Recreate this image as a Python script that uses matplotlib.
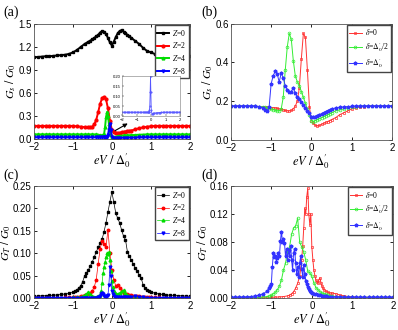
import numpy as np
import matplotlib
matplotlib.use('Agg')
import matplotlib.pyplot as plt
from matplotlib.ticker import FormatStrFormatter

plt.rcParams['font.family'] = 'Liberation Sans'
plt.rcParams['mathtext.fontset'] = 'stix'

# ---------------- panel (a): Gs/G0 for several Z ----------------
xa = [-2.0, -1.9, -1.8, -1.7, -1.6, -1.5, -1.4, -1.3, -1.2, -1.1, -1.0, -0.9, -0.8, -0.7, -0.6,
      -0.55, -0.5, -0.45, -0.4, -0.35, -0.3, -0.25, -0.2, -0.15, -0.1, -0.05, 0.0, 0.05, 0.1,
      0.15, 0.2, 0.25, 0.3, 0.35, 0.4, 0.45, 0.5,
      0.6, 0.7, 0.8, 0.9, 1.0, 1.1, 1.2, 1.3, 1.4, 1.5, 1.6, 1.7, 1.8, 1.9, 2.0]
a_z0 = [1.07, 1.07, 1.075, 1.08, 1.08, 1.085, 1.09, 1.095, 1.10, 1.11, 1.13, 1.16, 1.20, 1.24, 1.27,
        1.285, 1.30, 1.32, 1.34, 1.36, 1.39, 1.41, 1.40, 1.37, 1.32, 1.26, 1.22, 1.27, 1.33,
        1.38, 1.41, 1.42, 1.40, 1.38, 1.36, 1.34, 1.32,
        1.28, 1.24, 1.19, 1.15, 1.13, 1.11, 1.10, 1.095, 1.09, 1.085, 1.08, 1.08, 1.08, 1.08, 1.08]
a_z2 = [0.17] * 11 + [0.165, 0.16, 0.155, 0.15] + \
       [0.15, 0.16, 0.19, 0.25, 0.35, 0.46, 0.53, 0.55, 0.52, 0.40, 0.24, 0.12, 0.09, 0.075,
        0.075, 0.08, 0.085, 0.09, 0.095, 0.10, 0.105, 0.11] + \
       [0.125, 0.14, 0.15, 0.16, 0.165] + [0.17] * 10

xa2 = [-2.0, -1.9, -1.8, -1.7, -1.6, -1.5, -1.4, -1.3, -1.2, -1.1, -1.0, -0.9, -0.8, -0.7, -0.6, -0.5, -0.4,
       -0.35, -0.3, -0.25, -0.2, -0.175, -0.15, -0.125, -0.1, -0.075, -0.05, -0.025, 0.0, 0.05, 0.1, 0.15, 0.2,
       0.3, 0.4, 0.5, 0.6, 0.7, 0.8, 0.9, 1.0, 1.1, 1.2, 1.3, 1.4, 1.5, 1.6, 1.7, 1.8, 1.9, 2.0]
a_z4 = [0.06] * 17 + \
       [0.055, 0.05, 0.045, 0.06, 0.15, 0.28, 0.35, 0.30, 0.20, 0.10, 0.05, 0.03, 0.025, 0.03, 0.035, 0.04] + \
       [0.045, 0.048, 0.05, 0.052, 0.055, 0.057] + [0.06] * 12
a_z8 = [0.02] * 17 + \
       [0.02, 0.02, 0.02, 0.02, 0.02, 0.02, 0.03, 0.05, 0.12, 0.20, 0.12, 0.03, 0.01, 0.012, 0.014, 0.015] + \
       [0.016, 0.017, 0.018, 0.018, 0.019, 0.019] + [0.02] * 12

# ---------------- panel (b): Gs/G0 for several delta ----------------
xb = [-2.0, -1.9, -1.8, -1.7, -1.6, -1.5, -1.4, -1.3, -1.2,
      -1.15, -1.1, -1.05, -1.0, -0.95, -0.9, -0.85, -0.8, -0.75, -0.7, -0.65, -0.6, -0.55, -0.5,
      -0.45, -0.4, -0.35, -0.3, -0.25, -0.2, -0.15, -0.1, -0.05, 0.0, 0.05, 0.1, 0.15, 0.2, 0.25,
      0.3, 0.35, 0.4, 0.45, 0.5,
      0.6, 0.7, 0.8, 0.9, 1.0, 1.1, 1.2, 1.3, 1.4, 1.5, 1.6, 1.7, 1.8, 1.9, 2.0]
b_d0 = [0.175] * 7 + [0.172, 0.17] + \
       [0.17, 0.17, 0.168, 0.167, 0.166, 0.165, 0.163, 0.16, 0.158, 0.155, 0.152, 0.15, 0.15, 0.152,
        0.16, 0.175, 0.20, 0.27, 0.42, 0.55, 0.53, 0.36, 0.17, 0.10, 0.085, 0.075, 0.072, 0.075, 0.08,
        0.085, 0.09, 0.095, 0.10, 0.105] + \
       [0.115, 0.13, 0.14, 0.15, 0.16, 0.165, 0.17, 0.172] + [0.175] * 7
b_d1 = [0.175] * 7 + [0.172, 0.17] + \
       [0.168, 0.165, 0.163, 0.16, 0.157, 0.153, 0.15, 0.15, 0.16, 0.22, 0.36, 0.48, 0.55, 0.52,
        0.41, 0.33, 0.30, 0.28, 0.25, 0.22, 0.19, 0.16, 0.13, 0.10, 0.095, 0.10, 0.105, 0.11, 0.115,
        0.12, 0.125, 0.13, 0.135, 0.14] + \
       [0.15, 0.155, 0.16, 0.165, 0.17, 0.172] + [0.175] * 9
b_d2 = [0.175] * 7 + [0.17, 0.165] + \
       [0.155, 0.147, 0.17, 0.29, 0.33, 0.355, 0.34, 0.30, 0.345, 0.32, 0.28, 0.26, 0.245, 0.25,
        0.27, 0.24, 0.22, 0.21, 0.195, 0.18, 0.165, 0.15, 0.14, 0.12, 0.118, 0.12, 0.125, 0.13, 0.135,
        0.14, 0.145, 0.15, 0.155, 0.16] + \
       [0.165, 0.168, 0.17, 0.172, 0.173] + [0.175] * 10

# ---------------- panel (c): GT/G0 for several Z ----------------
xc = [-2.0, -1.9, -1.8, -1.7, -1.6, -1.5, -1.4, -1.3, -1.2, -1.1, -1.0,
      -0.95, -0.9, -0.85, -0.8, -0.75, -0.7, -0.65, -0.6, -0.55, -0.5, -0.45, -0.4, -0.35, -0.3,
      -0.25, -0.2, -0.15, -0.1, -0.05, 0.0, 0.05, 0.1, 0.15, 0.2, 0.25, 0.3, 0.35, 0.4, 0.45, 0.5,
      0.55, 0.6, 0.65, 0.7, 0.75, 0.8, 0.85, 0.9, 0.95,
      1.0, 1.1, 1.2, 1.3, 1.4, 1.5, 1.6, 1.7, 1.8, 1.9, 2.0]
c_z0 = [0.004, 0.004, 0.005, 0.005, 0.006, 0.006, 0.007, 0.008, 0.009, 0.011, 0.013,
        0.015, 0.018, 0.022, 0.027, 0.036, 0.049, 0.056, 0.063, 0.072, 0.081, 0.092, 0.103, 0.113, 0.122,
        0.132, 0.148, 0.168, 0.192, 0.215, 0.237, 0.214, 0.19, 0.178, 0.168, 0.152, 0.138, 0.13, 0.103,
        0.093, 0.085, 0.076, 0.067, 0.06, 0.052, 0.045, 0.03, 0.022, 0.018, 0.015,
        0.013, 0.011, 0.009, 0.008, 0.007, 0.006, 0.006, 0.005, 0.005, 0.004, 0.004]
c_z2 = [0.001] * 8 + [0.0015, 0.002, 0.002] + \
       [0.002, 0.003, 0.003, 0.004, 0.005, 0.006, 0.007, 0.009, 0.012, 0.016, 0.025, 0.041, 0.077, 0.11,
        0.128, 0.12, 0.114, 0.152, 0.10, 0.063, 0.041, 0.027, 0.03, 0.023, 0.016, 0.012, 0.01, 0.008,
        0.007, 0.006, 0.005, 0.005, 0.004, 0.004, 0.003, 0.003, 0.003, 0.002, 0.002] + \
       [0.002, 0.002, 0.0015] + [0.001] * 8

xg = [-2.0, -1.9, -1.8, -1.7, -1.6, -1.5, -1.4, -1.3, -1.2, -1.1, -1.0, -0.9, -0.8,
      -0.75, -0.7, -0.65, -0.6, -0.55, -0.5, -0.45, -0.4,
      -0.375, -0.35, -0.325, -0.3, -0.275, -0.25, -0.225, -0.2, -0.175, -0.15, -0.125, -0.1, -0.075,
      -0.05, -0.025, 0.0, 0.025, 0.05, 0.075, 0.1,
      0.15, 0.2, 0.25, 0.3, 0.35, 0.4, 0.45, 0.5,
      0.6, 0.7, 0.8, 0.9, 1.0, 1.1, 1.2, 1.3, 1.4, 1.5, 1.6, 1.7, 1.8, 1.9, 2.0]
c_z4 = [0.001] * 10 + [0.0015, 0.002, 0.003] + \
       [0.004, 0.006, 0.01, 0.014, 0.01, 0.005, 0.003, 0.003] + \
       [0.003, 0.004, 0.005, 0.007, 0.015, 0.034, 0.055, 0.07, 0.08, 0.092, 0.1, 0.098, 0.103, 0.085,
        0.06, 0.038, 0.025, 0.016, 0.011, 0.009] + \
       [0.01, 0.012, 0.015, 0.017, 0.012, 0.007, 0.004, 0.003] + \
       [0.002, 0.002, 0.0015] + [0.001] * 12
c_z8 = [0.001] * 21 + \
       [0.001, 0.002, 0.003, 0.004, 0.008, 0.012, 0.008, 0.005, 0.004, 0.003, 0.004, 0.006, 0.03, 0.07,
        0.05, 0.016, 0.008, 0.005, 0.003, 0.002] + \
       [0.002, 0.002, 0.002, 0.002, 0.002, 0.002, 0.002, 0.003] + \
       [0.005, 0.003, 0.002] + [0.001] * 12

# ---------------- panel (d): GT/G0 for several delta ----------------
xd_r = [-2.0, -1.9, -1.8, -1.7, -1.6, -1.5, -1.4, -1.3, -1.2, -1.1, -1.0, -0.9, -0.8, -0.7, -0.6,
        -0.55, -0.5, -0.45, -0.4, -0.35, -0.3,
        -0.275, -0.25, -0.225, -0.2, -0.175, -0.15, -0.125, -0.1, -0.075, -0.05, -0.025, 0.0, 0.025,
        0.05, 0.075, 0.1, 0.125, 0.15, 0.175, 0.2, 0.225, 0.25, 0.275, 0.3,
        0.35, 0.4, 0.45, 0.5,
        0.6, 0.7, 0.8, 0.9, 1.0, 1.1, 1.2, 1.3, 1.4, 1.5, 1.6, 1.7, 1.8, 1.9, 2.0]
d_d0 = [0.001] * 11 + [0.0012, 0.0015, 0.002, 0.003] + \
       [0.004, 0.006, 0.009, 0.014, 0.021, 0.031] + \
       [0.042, 0.055, 0.075, 0.10, 0.128, 0.12, 0.145, 0.157, 0.12, 0.105, 0.12, 0.073, 0.055, 0.04,
        0.032, 0.026, 0.023, 0.022, 0.026, 0.029, 0.022, 0.017, 0.014, 0.012] + \
       [0.010, 0.008, 0.007, 0.007] + \
       [0.006, 0.004, 0.003, 0.002, 0.002] + [0.001] * 10

xd_g = [-2.0, -1.9, -1.8, -1.7, -1.6, -1.5, -1.4, -1.3, -1.2, -1.1,
        -1.05, -1.0, -0.95, -0.9, -0.85, -0.8, -0.75, -0.7, -0.65, -0.6, -0.55, -0.5, -0.45, -0.4,
        -0.35, -0.3, -0.25, -0.2, -0.15, -0.1, -0.05, 0.0, 0.05, 0.1, 0.15, 0.2, 0.25, 0.3, 0.35,
        0.4, 0.45, 0.5,
        0.6, 0.7, 0.8, 0.9, 1.0, 1.1, 1.2, 1.3, 1.4, 1.5, 1.6, 1.7, 1.8, 1.9, 2.0]
d_d1 = [0.001] * 8 + [0.0015, 0.002] + \
       [0.003, 0.004, 0.006, 0.008, 0.012, 0.017, 0.026, 0.04, 0.05, 0.066, 0.073, 0.091, 0.10, 0.103,
        0.114, 0.08, 0.073, 0.066, 0.054, 0.038, 0.036, 0.031, 0.022, 0.015, 0.012, 0.009, 0.007,
        0.006, 0.005, 0.004, 0.003, 0.003] + \
       [0.002, 0.002, 0.0015] + [0.001] * 12

xd_b = [-2.0, -1.9, -1.8, -1.7, -1.6, -1.5, -1.4, -1.3, -1.2, -1.1,
        -1.05, -1.025, -1.0, -0.975, -0.95, -0.925, -0.9, -0.875, -0.85, -0.825, -0.8, -0.775,
        -0.75, -0.725, -0.7, -0.675, -0.65, -0.625, -0.6, -0.575, -0.55, -0.525, -0.5, -0.475,
        -0.45, -0.425, -0.4, -0.375, -0.35, -0.325, -0.3, -0.275, -0.25, -0.225, -0.2, -0.175,
        -0.15, -0.125, -0.1, -0.075, -0.05, -0.025, 0.0,
        0.05, 0.1, 0.15, 0.2, 0.25, 0.3, 0.35, 0.4, 0.45, 0.5,
        0.6, 0.7, 0.8, 0.9, 1.0, 1.1, 1.2, 1.3, 1.4, 1.5, 1.6, 1.7, 1.8, 1.9, 2.0]
d_d2 = [0.001, 0.001, 0.001, 0.0012, 0.0015, 0.002, 0.003, 0.004, 0.006, 0.01] + \
       [0.014, 0.017, 0.02, 0.045, 0.064, 0.058, 0.06, 0.052, 0.057, 0.065, 0.06, 0.082, 0.095, 0.08,
        0.085, 0.078, 0.06, 0.07, 0.055, 0.068, 0.06, 0.075, 0.055, 0.04, 0.065, 0.07, 0.05, 0.035,
        0.045, 0.03, 0.05, 0.06, 0.042, 0.03, 0.047, 0.035, 0.025, 0.02, 0.016, 0.013, 0.01, 0.008,
        0.007] + \
       [0.006, 0.005, 0.0045, 0.004, 0.0035, 0.003, 0.0025, 0.002, 0.002, 0.002] + \
       [0.0015, 0.0015] + [0.001] * 13

z_labels = ['$Z$=0', '$Z$=2', '$Z$=4', '$Z$=8']
d_labels = [r'$\delta$=0', r"$\delta$=$\Delta^{\prime}_0$/2", r"$\delta$=$\Delta^{\prime}_0$"]

xlab = r"$eV\ /\ \Delta^{\prime}_0$"

fig = plt.figure(figsize=(3.98, 3.3), dpi=100)
ax_a = fig.add_axes([0.085, 0.579, 0.392, 0.348])
ax_b = fig.add_axes([0.580, 0.576, 0.405, 0.352])
ax_c = fig.add_axes([0.085, 0.097, 0.392, 0.339])
ax_d = fig.add_axes([0.580, 0.097, 0.407, 0.339])


def style(ax, yticks, fmt, ylabel):
    ax.set_xlim(-2, 2)
    ax.set_ylim(yticks[0], yticks[-1])
    ax.set_xticks([-2, -1, 0, 1, 2])
    ax.set_yticks(yticks)
    ax.yaxis.set_major_formatter(FormatStrFormatter(fmt))
    ax.tick_params(direction='in', length=2.5, width=0.6, labelsize=7, pad=1.5,
                   top=True, right=True)
    ax.tick_params(axis='x', pad=2.5)
    for s in ax.spines.values():
        s.set_linewidth(0.6)
        s.set_color('#555555')
    ax.set_xlabel(xlab, fontsize=9, labelpad=-1)
    ax.set_ylabel(ylabel, fontsize=8.5, labelpad=0)


def leg(ax):
    ax.legend(loc='upper right', prop={'family': 'Liberation Serif', 'size': 5.5},
              fancybox=False, edgecolor='#444444', framealpha=1, handlelength=1.6,
              borderpad=0.3, labelspacing=0.35, handletextpad=0.4, borderaxespad=0.15)


ms = 2.0
# (a)
ax_a.plot(xa, a_z0, '-s', color='black', ms=ms, lw=1.4, label=z_labels[0])
ax_a.plot(xa, a_z2, '-o', color='red', ms=ms, lw=1.4, label=z_labels[1])
ax_a.plot(xa2, a_z4, '-^', color='#00dd00', ms=ms, lw=1.4, label=z_labels[2])
ax_a.plot(xa2, a_z8, '-v', color='blue', ms=ms, lw=1.4, label=z_labels[3])
style(ax_a, [0.0, 0.3, 0.6, 0.9, 1.2, 1.5], '%.1f', r'$G_s\ /\ G_0$')
leg(ax_a)
ax_a.annotate('', xy=(0.47, 0.22), xytext=(0.02, 0.09),
              arrowprops=dict(arrowstyle='-|>', color='black', lw=0.8, mutation_scale=6))

ax_in = fig.add_axes([0.307, 0.648, 0.146, 0.121])
ax_in.plot(xa2, a_z8, '.-', color='#5555ff', ms=1, lw=0.6)
ax_in.set_xlim(-2, 2)
ax_in.set_ylim(0, 0.2)
ax_in.set_xticks([-2, -1, 0, 1, 2])
ax_in.set_yticks([0.0, 0.05, 0.1, 0.15, 0.2])
ax_in.yaxis.set_major_formatter(FormatStrFormatter('%.2f'))
ax_in.tick_params(direction='in', length=1.2, width=0.3, labelsize=3, pad=1)
for s in ax_in.spines.values():
    s.set_linewidth(0.4)
    s.set_color('#777777')

# (b)
ax_b.plot(xb, b_d0, '-s', color='#ff3333', mfc='none', mew=0.5, ms=ms, lw=0.7, label=d_labels[0])
ax_b.plot(xb, b_d1, '-o', color='#33ee33', mfc='none', mew=0.5, ms=ms, lw=0.7, label=d_labels[1])
ax_b.plot(xb, b_d2, '-*', color='#3333ff', ms=2.6, lw=0.7, label=d_labels[2])
style(ax_b, [0.0, 0.2, 0.4, 0.6], '%.1f', r'$G_s\ /\ G_0$')
leg(ax_b)

# (c)
ax_c.plot(xc, c_z0, '-s', color='black', ms=1.8, lw=0.5, label=z_labels[0])
ax_c.plot(xc, c_z2, '-o', color='red', ms=1.8, lw=0.5, label=z_labels[1])
ax_c.plot(xg, c_z4, '-^', color='#00dd00', ms=2.0, lw=0.5, label=z_labels[2])
ax_c.plot(xg, c_z8, '-v', color='blue', ms=2.0, lw=0.5, label=z_labels[3])
style(ax_c, [0.0, 0.05, 0.1, 0.15, 0.2, 0.25], '%.2f', r'$G_T\ /\ G_0$')
leg(ax_c)

# (d)
ax_d.plot(xd_r, d_d0, '-s', color='#ff3333', mfc='none', mew=0.5, ms=ms, lw=0.7, label=d_labels[0])
ax_d.plot(xd_g, d_d1, '-o', color='#33ee33', mfc='none', mew=0.5, ms=ms, lw=0.7, label=d_labels[1])
ax_d.plot(xd_b, d_d2, '-*', color='#3333ff', ms=2.6, lw=0.7, label=d_labels[2])
style(ax_d, [0.0, 0.04, 0.08, 0.12, 0.16], '%.2f', r'$G_T\ /\ G_0$')
leg(ax_d)

for lab, x, y in [('(a)', 0.008, 0.962), ('(b)', 0.505, 0.962), ('(c)', 0.008, 0.47), ('(d)', 0.505, 0.47)]:
    fig.text(x, y, lab, fontsize=10, family='Liberation Serif', va='center')

fig.savefig('out.png', dpi=100)
